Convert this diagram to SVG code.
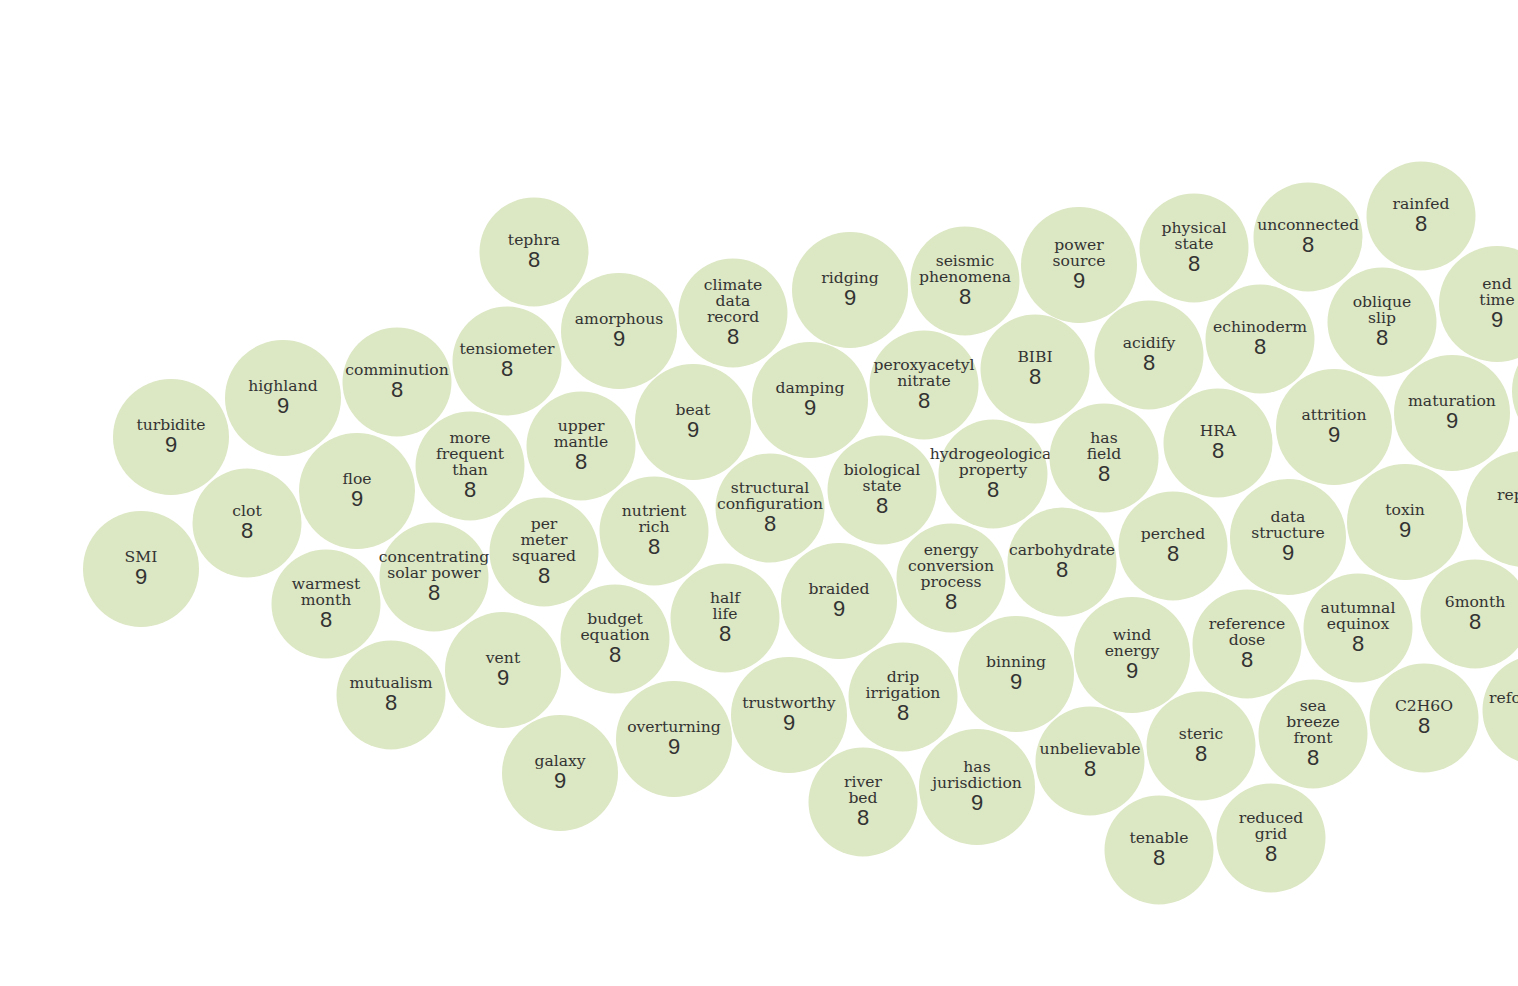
<svg xmlns="http://www.w3.org/2000/svg" width="1518" height="986" viewBox="0 0 1518 986">
<style>
circle{fill:#dce7c3}
.l{font-family:"DejaVu Serif","Liberation Serif",serif;font-size:15.6px;fill:#333;text-anchor:middle}
.n{font-family:"Liberation Sans",Arial,sans-serif;font-size:22px;fill:#333;text-anchor:middle}
.c{text-anchor:start}
</style>
<rect width="1518" height="986" fill="#ffffff"/>
<g id="connectors"/>
<g id="n-smi"><circle cx="141" cy="569" r="58"/><text class="l" x="141" y="562">SMI</text><text class="n" x="141" y="584">9</text></g>
<g id="n-turbidite"><circle cx="171" cy="437" r="58"/><text class="l" x="171" y="430">turbidite</text><text class="n" x="171" y="452">9</text></g>
<g id="n-highland"><circle cx="283" cy="398" r="58"/><text class="l" x="283" y="391">highland</text><text class="n" x="283" y="413">9</text></g>
<g id="n-comminution"><circle cx="397" cy="382" r="54.5"/><text class="l" x="397" y="375">comminution</text><text class="n" x="397" y="397">8</text></g>
<g id="n-clot"><circle cx="247" cy="523" r="54.5"/><text class="l" x="247" y="516">clot</text><text class="n" x="247" y="538">8</text></g>
<g id="n-floe"><circle cx="357" cy="491" r="58"/><text class="l" x="357" y="484">floe</text><text class="n" x="357" y="506">9</text></g>
<g id="n-warmest-month"><circle cx="326" cy="604" r="54.5"/><text class="l" x="326" y="589">warmest<tspan x="326" dy="16">month</tspan></text><text class="n" x="326" y="627">8</text></g>
<g id="n-mutualism"><circle cx="391" cy="695" r="54.5"/><text class="l" x="391" y="688">mutualism</text><text class="n" x="391" y="710">8</text></g>
<g id="n-csp"><circle cx="434" cy="577" r="54.5"/><text class="l" x="434" y="562">concentrating<tspan x="434" dy="16">solar power</tspan></text><text class="n" x="434" y="600">8</text></g>
<g id="n-more-frequent"><circle cx="470" cy="466" r="54.5"/><text class="l" x="470" y="443">more<tspan x="470" dy="16">frequent</tspan><tspan x="470" dy="16">than</tspan></text><text class="n" x="470" y="497">8</text></g>
<g id="n-tensiometer"><circle cx="507" cy="361" r="54.5"/><text class="l" x="507" y="354">tensiometer</text><text class="n" x="507" y="376">8</text></g>
<g id="n-tephra"><circle cx="534" cy="252" r="54.5"/><text class="l" x="534" y="245">tephra</text><text class="n" x="534" y="267">8</text></g>
<g id="n-amorphous"><circle cx="619" cy="331" r="58"/><text class="l" x="619" y="324">amorphous</text><text class="n" x="619" y="346">9</text></g>
<g id="n-upper-mantle"><circle cx="581" cy="446" r="54.5"/><text class="l" x="581" y="431">upper<tspan x="581" dy="16">mantle</tspan></text><text class="n" x="581" y="469">8</text></g>
<g id="n-per-meter"><circle cx="544" cy="552" r="54.5"/><text class="l" x="544" y="529">per<tspan x="544" dy="16">meter</tspan><tspan x="544" dy="16">squared</tspan></text><text class="n" x="544" y="583">8</text></g>
<g id="n-vent"><circle cx="503" cy="670" r="58"/><text class="l" x="503" y="663">vent</text><text class="n" x="503" y="685">9</text></g>
<g id="n-galaxy"><circle cx="560" cy="773" r="58"/><text class="l" x="560" y="766">galaxy</text><text class="n" x="560" y="788">9</text></g>
<g id="n-budget-equation"><circle cx="615" cy="639" r="54.5"/><text class="l" x="615" y="624">budget<tspan x="615" dy="16">equation</tspan></text><text class="n" x="615" y="662">8</text></g>
<g id="n-nutrient-rich"><circle cx="654" cy="531" r="54.5"/><text class="l" x="654" y="516">nutrient<tspan x="654" dy="16">rich</tspan></text><text class="n" x="654" y="554">8</text></g>
<g id="n-beat"><circle cx="693" cy="422" r="58"/><text class="l" x="693" y="415">beat</text><text class="n" x="693" y="437">9</text></g>
<g id="n-climate"><circle cx="733" cy="313" r="54.5"/><text class="l" x="733" y="290">climate<tspan x="733" dy="16">data</tspan><tspan x="733" dy="16">record</tspan></text><text class="n" x="733" y="344">8</text></g>
<g id="n-ridging"><circle cx="850" cy="290" r="58"/><text class="l" x="850" y="283">ridging</text><text class="n" x="850" y="305">9</text></g>
<g id="n-damping"><circle cx="810" cy="400" r="58"/><text class="l" x="810" y="393">damping</text><text class="n" x="810" y="415">9</text></g>
<g id="n-structural"><circle cx="770" cy="508" r="54.5"/><text class="l" x="770" y="493">structural<tspan x="770" dy="16">configuration</tspan></text><text class="n" x="770" y="531">8</text></g>
<g id="n-half-life"><circle cx="725" cy="618" r="54.5"/><text class="l" x="725" y="603">half<tspan x="725" dy="16">life</tspan></text><text class="n" x="725" y="641">8</text></g>
<g id="n-overturning"><circle cx="674" cy="739" r="58"/><text class="l" x="674" y="732">overturning</text><text class="n" x="674" y="754">9</text></g>
<g id="n-trustworthy"><circle cx="789" cy="715" r="58"/><text class="l" x="789" y="708">trustworthy</text><text class="n" x="789" y="730">9</text></g>
<g id="n-braided"><circle cx="839" cy="601" r="58"/><text class="l" x="839" y="594">braided</text><text class="n" x="839" y="616">9</text></g>
<g id="n-biological"><circle cx="882" cy="490" r="54.5"/><text class="l" x="882" y="475">biological<tspan x="882" dy="16">state</tspan></text><text class="n" x="882" y="513">8</text></g>
<g id="n-peroxyacetyl"><circle cx="924" cy="385" r="54.5"/><text class="l" x="924" y="370">peroxyacetyl<tspan x="924" dy="16">nitrate</tspan></text><text class="n" x="924" y="408">8</text></g>
<g id="n-seismic"><circle cx="965" cy="281" r="54.5"/><text class="l" x="965" y="266">seismic<tspan x="965" dy="16">phenomena</tspan></text><text class="n" x="965" y="304">8</text></g>
<g id="n-power-source"><circle cx="1079" cy="265" r="58"/><text class="l" x="1079" y="250">power<tspan x="1079" dy="16">source</tspan></text><text class="n" x="1079" y="288">9</text></g>
<g id="n-bibi"><circle cx="1035" cy="369" r="54.5"/><text class="l" x="1035" y="362">BIBI</text><text class="n" x="1035" y="384">8</text></g>
<g id="n-hydrogeological"><circle cx="993" cy="474" r="54.5"/><text class="l" x="993" y="459">hydrogeological<tspan x="993" dy="16">property</tspan></text><text class="n" x="993" y="497">8</text></g>
<g id="n-energy-conversion"><circle cx="951" cy="578" r="54.5"/><text class="l" x="951" y="555">energy<tspan x="951" dy="16">conversion</tspan><tspan x="951" dy="16">process</tspan></text><text class="n" x="951" y="609">8</text></g>
<g id="n-drip"><circle cx="903" cy="697" r="54.5"/><text class="l" x="903" y="682">drip<tspan x="903" dy="16">irrigation</tspan></text><text class="n" x="903" y="720">8</text></g>
<g id="n-river-bed"><circle cx="863" cy="802" r="54.5"/><text class="l" x="863" y="787">river<tspan x="863" dy="16">bed</tspan></text><text class="n" x="863" y="825">8</text></g>
<g id="n-jurisdiction"><circle cx="977" cy="787" r="58"/><text class="l" x="977" y="772">has<tspan x="977" dy="16">jurisdiction</tspan></text><text class="n" x="977" y="810">9</text></g>
<g id="n-binning"><circle cx="1016" cy="674" r="58"/><text class="l" x="1016" y="667">binning</text><text class="n" x="1016" y="689">9</text></g>
<g id="n-carbohydrate"><circle cx="1062" cy="562" r="54.5"/><text class="l" x="1062" y="555">carbohydrate</text><text class="n" x="1062" y="577">8</text></g>
<g id="n-has-field"><circle cx="1104" cy="458" r="54.5"/><text class="l" x="1104" y="443">has<tspan x="1104" dy="16">field</tspan></text><text class="n" x="1104" y="481">8</text></g>
<g id="n-acidify"><circle cx="1149" cy="355" r="54.5"/><text class="l" x="1149" y="348">acidify</text><text class="n" x="1149" y="370">8</text></g>
<g id="n-physical-state"><circle cx="1194" cy="248" r="54.5"/><text class="l" x="1194" y="233">physical<tspan x="1194" dy="16">state</tspan></text><text class="n" x="1194" y="271">8</text></g>
<g id="n-unconnected"><circle cx="1308" cy="237" r="54.5"/><text class="l" x="1308" y="230">unconnected</text><text class="n" x="1308" y="252">8</text></g>
<g id="n-rainfed"><circle cx="1421" cy="216" r="54.5"/><text class="l" x="1421" y="209">rainfed</text><text class="n" x="1421" y="231">8</text></g>
<g id="n-echinoderm"><circle cx="1260" cy="339" r="54.5"/><text class="l" x="1260" y="332">echinoderm</text><text class="n" x="1260" y="354">8</text></g>
<g id="n-oblique-slip"><circle cx="1382" cy="322" r="54.5"/><text class="l" x="1382" y="307">oblique<tspan x="1382" dy="16">slip</tspan></text><text class="n" x="1382" y="345">8</text></g>
<g id="n-end-time"><circle cx="1497" cy="304" r="58"/><text class="l" x="1497" y="289">end<tspan x="1497" dy="16">time</tspan></text><text class="n" x="1497" y="327">9</text></g>
<g id="n-hra"><circle cx="1218" cy="443" r="54.5"/><text class="l" x="1218" y="436">HRA</text><text class="n" x="1218" y="458">8</text></g>
<g id="n-attrition"><circle cx="1334" cy="427" r="58"/><text class="l" x="1334" y="420">attrition</text><text class="n" x="1334" y="442">9</text></g>
<g id="n-maturation"><circle cx="1452" cy="413" r="58"/><text class="l" x="1452" y="406">maturation</text><text class="n" x="1452" y="428">9</text></g>
<g id="n-edge"><circle cx="1570" cy="391" r="58"/></g>
<g id="n-rep"><circle cx="1524" cy="509" r="58"/><text class="l c" x="1497" y="500">rep</text></g>
<g id="n-refo"><circle cx="1537" cy="710" r="54.5"/><text class="l c" x="1489" y="703">refo</text></g>
<g id="n-data-structure"><circle cx="1288" cy="537" r="58"/><text class="l" x="1288" y="522">data<tspan x="1288" dy="16">structure</tspan></text><text class="n" x="1288" y="560">9</text></g>
<g id="n-perched"><circle cx="1173" cy="546" r="54.5"/><text class="l" x="1173" y="539">perched</text><text class="n" x="1173" y="561">8</text></g>
<g id="n-toxin"><circle cx="1405" cy="522" r="58"/><text class="l" x="1405" y="515">toxin</text><text class="n" x="1405" y="537">9</text></g>
<g id="n-wind-energy"><circle cx="1132" cy="655" r="58"/><text class="l" x="1132" y="640">wind<tspan x="1132" dy="16">energy</tspan></text><text class="n" x="1132" y="678">9</text></g>
<g id="n-reference-dose"><circle cx="1247" cy="644" r="54.5"/><text class="l" x="1247" y="629">reference<tspan x="1247" dy="16">dose</tspan></text><text class="n" x="1247" y="667">8</text></g>
<g id="n-autumnal"><circle cx="1358" cy="628" r="54.5"/><text class="l" x="1358" y="613">autumnal<tspan x="1358" dy="16">equinox</tspan></text><text class="n" x="1358" y="651">8</text></g>
<g id="n-6month"><circle cx="1475" cy="614" r="54.5"/><text class="l" x="1475" y="607">6month</text><text class="n" x="1475" y="629">8</text></g>
<g id="n-c2h6o"><circle cx="1424" cy="718" r="54.5"/><text class="l" x="1424" y="711">C2H6O</text><text class="n" x="1424" y="733">8</text></g>
<g id="n-sea-breeze"><circle cx="1313" cy="734" r="54.5"/><text class="l" x="1313" y="711">sea<tspan x="1313" dy="16">breeze</tspan><tspan x="1313" dy="16">front</tspan></text><text class="n" x="1313" y="765">8</text></g>
<g id="n-steric"><circle cx="1201" cy="746" r="54.5"/><text class="l" x="1201" y="739">steric</text><text class="n" x="1201" y="761">8</text></g>
<g id="n-unbelievable"><circle cx="1090" cy="761" r="54.5"/><text class="l" x="1090" y="754">unbelievable</text><text class="n" x="1090" y="776">8</text></g>
<g id="n-tenable"><circle cx="1159" cy="850" r="54.5"/><text class="l" x="1159" y="843">tenable</text><text class="n" x="1159" y="865">8</text></g>
<g id="n-reduced-grid"><circle cx="1271" cy="838" r="54.5"/><text class="l" x="1271" y="823">reduced<tspan x="1271" dy="16">grid</tspan></text><text class="n" x="1271" y="861">8</text></g>
</svg>
